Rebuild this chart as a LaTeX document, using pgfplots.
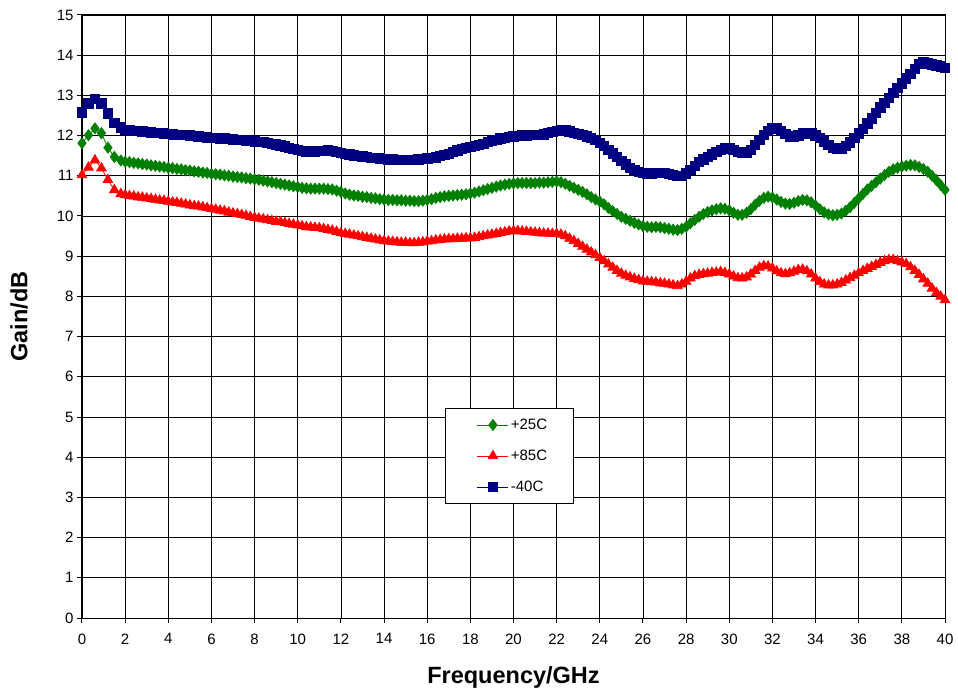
\documentclass[border=0pt]{standalone}
\usepackage{fontspec}
\setmainfont{Liberation Sans}
\usepackage{pgfplots}
\pgfplotsset{compat=1.18}
\usepackage{pgfplotstable}
\usetikzlibrary{calc}

\definecolor{cgreen}{RGB}{0,128,0}
\definecolor{cred}{RGB}{255,0,0}
\definecolor{cblue}{RGB}{0,0,128}

% gain vs frequency
\pgfplotstableread{
x    p25   p85   m40
0.0  11.81 11.02 12.58
0.3  12.01 11.21 12.80
0.6  12.18 11.39 12.92
0.9  12.06 11.19 12.80
1.2  11.70 10.90 12.55
1.5  11.47 10.65 12.32
1.8  11.38 10.55 12.20
2.0  11.35 10.52 12.14
2.2  11.34 10.50 12.13
2.4  11.32 10.49 12.12
2.6  11.31 10.47 12.11
2.8  11.29 10.46 12.10
3.0  11.28 10.44 12.09
3.2  11.26 10.43 12.08
3.4  11.25 10.41 12.07
3.6  11.23 10.39 12.06
3.8  11.22 10.38 12.05
4.0  11.20 10.36 12.04
4.2  11.19 10.34 12.03
4.4  11.17 10.33 12.02
4.6  11.16 10.31 12.01
4.8  11.14 10.29 12.01
5.0  11.13 10.27 12.00
5.2  11.11 10.25 11.99
5.4  11.10 10.24 11.98
5.6  11.08 10.22 11.97
5.8  11.07 10.20 11.96
6.0  11.05 10.18 11.95
6.2  11.04 10.16 11.94
6.4  11.03 10.14 11.93
6.6  11.01 10.12 11.93
6.8  11.00 10.09 11.92
7.0  10.98 10.07 11.91
7.2  10.97 10.05 11.90
7.4  10.96 10.03 11.89
7.6  10.94 10.01 11.88
7.8  10.93 9.98  11.87
8.0  10.91 9.96  11.86
8.2  10.90 9.94  11.85
8.4  10.88 9.92  11.84
8.6  10.86 9.90  11.82
8.8  10.84 9.88  11.80
9.0  10.82 9.86  11.78
9.2  10.80 9.85  11.76
9.4  10.78 9.83  11.73
9.6  10.76 9.81  11.70
9.8  10.74 9.79  11.67
10.0 10.72 9.77  11.64
10.2 10.70 9.75  11.62
10.4 10.69 9.73  11.61
10.6 10.68 9.72  11.61
10.8 10.68 9.71  11.61
11.0 10.68 9.70  11.62
11.2 10.68 9.68  11.62
11.4 10.67 9.66  11.63
11.6 10.66 9.64  11.62
11.8 10.63 9.61  11.60
12.0 10.60 9.58  11.57
12.2 10.56 9.56  11.55
12.4 10.53 9.54  11.53
12.6 10.51 9.52  11.51
12.8 10.50 9.50  11.49
13.0 10.48 9.48  11.48
13.2 10.47 9.46  11.47
13.4 10.45 9.44  11.45
13.6 10.44 9.42  11.44
13.8 10.42 9.40  11.43
14.0 10.41 9.38  11.42
14.2 10.40 9.37  11.41
14.4 10.40 9.36  11.41
14.6 10.39 9.35  11.40
14.8 10.39 9.34  11.40
15.0 10.38 9.34  11.40
15.2 10.38 9.33  11.40
15.4 10.37 9.33  11.40
15.6 10.37 9.34  11.41
15.8 10.38 9.35  11.42
16.0 10.40 9.37  11.43
16.2 10.42 9.38  11.44
16.4 10.45 9.40  11.46
16.6 10.47 9.41  11.49
16.8 10.49 9.42  11.52
17.0 10.50 9.43  11.55
17.2 10.51 9.43  11.59
17.4 10.52 9.44  11.63
17.6 10.53 9.44  11.67
17.8 10.54 9.45  11.70
18.0 10.56 9.45  11.72
18.2 10.58 9.46  11.74
18.4 10.61 9.48  11.77
18.6 10.64 9.50  11.80
18.8 10.67 9.52  11.84
19.0 10.70 9.54  11.87
19.2 10.73 9.56  11.90
19.4 10.76 9.58  11.93
19.6 10.78 9.60  11.95
19.8 10.80 9.62  11.97
20.0 10.81 9.63  11.98
20.2 10.82 9.63  11.99
20.4 10.82 9.62  12.00
20.6 10.82 9.61  12.00
20.8 10.82 9.60  12.01
21.0 10.82 9.59  12.01
21.2 10.83 9.58  12.02
21.4 10.83 9.57  12.03
21.6 10.84 9.57  12.06
21.8 10.85 9.56  12.09
22.0 10.86 9.56  12.12
22.2 10.84 9.54  12.14
22.4 10.80 9.50  12.13
22.6 10.75 9.44  12.10
22.8 10.70 9.38  12.07
23.0 10.65 9.31  12.04
23.2 10.60 9.24  12.02
23.4 10.54 9.17  11.98
23.6 10.47 9.10  11.94
23.8 10.41 9.03  11.89
24.0 10.36 8.96  11.82
24.2 10.29 8.88  11.74
24.4 10.20 8.80  11.65
24.6 10.12 8.72  11.56
24.8 10.05 8.64  11.47
25.0 9.98  8.57  11.37
25.2 9.93  8.52  11.28
25.4 9.88  8.48  11.20
25.6 9.83  8.44  11.14
25.8 9.79  8.41  11.10
26.0 9.75  8.38  11.07
26.2 9.73  8.37  11.06
26.4 9.72  8.36  11.06
26.6 9.73  8.35  11.07
26.8 9.72  8.33  11.07
27.0 9.70  8.32  11.07
27.2 9.68  8.30  11.05
27.4 9.66  8.28  11.02
27.6 9.65  8.26  10.99
27.8 9.68  8.30  10.99
28.0 9.73  8.37  11.06
28.2 9.82  8.45  11.15
28.4 9.90  8.51  11.25
28.6 9.98  8.54  11.34
28.8 10.05 8.56  11.41
29.0 10.10 8.57  11.47
29.2 10.14 8.59  11.53
29.4 10.17 8.60  11.59
29.6 10.19 8.61  11.64
29.8 10.18 8.59  11.68
30.0 10.14 8.55  11.68
30.2 10.08 8.50  11.65
30.4 10.03 8.46  11.60
30.6 10.03 8.45  11.57
30.8 10.08 8.48  11.58
31.0 10.17 8.55  11.65
31.2 10.28 8.64  11.77
31.4 10.38 8.72  11.90
31.6 10.45 8.76  12.02
31.8 10.48 8.75  12.12
32.0 10.46 8.70  12.18
32.2 10.41 8.63  12.18
32.4 10.35 8.58  12.12
32.6 10.31 8.56  12.04
32.8 10.30 8.58  11.98
33.0 10.33 8.62  11.97
33.2 10.37 8.66  12.00
33.4 10.40 8.67  12.05
33.6 10.39 8.63  12.07
33.8 10.34 8.55  12.05
34.0 10.26 8.45  12.00
34.2 10.17 8.36  11.94
34.4 10.09 8.30  11.86
34.6 10.04 8.28  11.77
34.8 10.02 8.28  11.70
35.0 10.03 8.30  11.67
35.2 10.06 8.34  11.68
35.4 10.13 8.40  11.74
35.6 10.22 8.46  11.83
35.8 10.33 8.52  11.94
36.0 10.44 8.58  12.05
36.2 10.55 8.64  12.17
36.4 10.66 8.69  12.30
36.6 10.75 8.74  12.43
36.8 10.84 8.79  12.57
37.0 10.93 8.84  12.70
37.2 11.02 8.88  12.82
37.4 11.10 8.91  12.94
37.6 11.16 8.91  13.06
37.8 11.20 8.88  13.18
38.0 11.23 8.85  13.30
38.2 11.25 8.81  13.42
38.4 11.27 8.73  13.54
38.6 11.26 8.64  13.66
38.8 11.22 8.54  13.78
39.0 11.17 8.43  13.82
39.2 11.10 8.32  13.80
39.4 11.00 8.20  13.77
39.6 10.89 8.09  13.75
39.8 10.77 8.00  13.72
40.0 10.65 7.91  13.68
}\gaindata

\begin{document}
\begin{tikzpicture}
\begin{axis}[
  scale only axis,
  width=863pt, height=603pt,
  xmin=0, xmax=40, ymin=0, ymax=15,
  xtick={0,2,...,40}, ytick={0,1,...,15},
  grid=major,
  grid style={black, line width=0.8pt},
  axis line style={black, line width=1pt},
  tick pos=left, tick align=outside,
  major tick length=5pt,
  tick style={black, line width=1pt},
  ticklabel style={font=\fontsize{15}{18}\selectfont},
  xticklabel style={yshift=-7pt},
  /pgf/number format/assume math mode=true,
  xlabel={Frequency/GHz}, ylabel={Gain/dB},
  label style={font=\fontsize{23.5}{27}\selectfont\bfseries},
  xlabel style={at={(axis description cs:0.5,-0.109)}, anchor=base},
  ylabel style={at={(axis description cs:-0.0634,0.5)}, anchor=base},
  clip=false,
  legend cell align=left,
  legend style={at={(0.4206,0.3483)}, anchor=north west,
    draw=black, line width=1pt, fill=white,
    font=\fontsize{15}{18}\selectfont,
    inner xsep=0pt, inner ysep=1pt, row sep=0pt},
  legend image code/.code={
    \path[draw=none, fill=none] (-32pt,-15.5pt) rectangle (31pt,15.5pt);
    \draw[mark repeat=2, mark phase=2, line width=0.8pt] plot coordinates {(0pt,0pt) (15.5pt,0pt) (31pt,0pt)};
  },
]
\addplot[cgreen, line width=0.8pt, mark=diamond*, mark size=5.5pt, mark options={solid}]
  table[x=x, y=p25] {\gaindata};
\addlegendentry{+25C\rule{24pt}{0pt}}
\addplot[cred, line width=0.8pt, mark=triangle*, mark size=5.5pt, mark options={solid}]
  table[x=x, y=p85] {\gaindata};
\addlegendentry{+85C\rule{24pt}{0pt}}
\addplot[cblue, line width=0.8pt, mark=square*, mark size=4.7pt, mark options={solid}]
  table[x=x, y=m40] {\gaindata};
\addlegendentry{-40C\rule{24pt}{0pt}}
\end{axis}
\pgfresetboundingbox
\path ($(current axis.south west)+(-82pt,-73pt)$) rectangle ($(current axis.north east)+(13pt,15pt)$);
\end{tikzpicture}
\end{document}
